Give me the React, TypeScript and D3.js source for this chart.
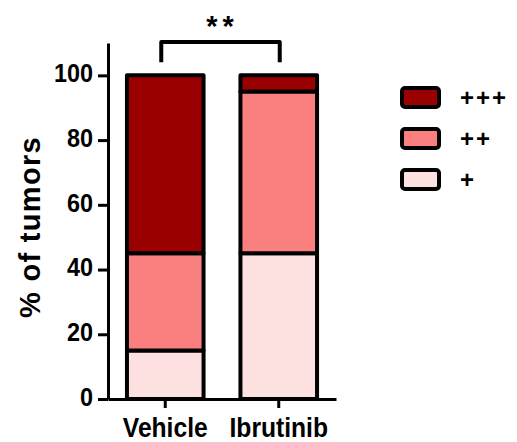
import * as d3 from 'd3';
import { useEffect, useRef } from 'react';

const groups = ['Vehicle', 'Ibrutinib'];
const levels = ['+', '++', '+++'];
const plusValues = [15, 45];
const plusPlusValues = [30, 50];
const plusPlusPlusValues = [55, 5];
const yTicks = [0, 20, 40, 60, 80, 100];
const colors = ['#fde0e0', '#fa8080', '#9b0000'];

export default function App() {
  const ref = useRef<SVGSVGElement>(null);

  useEffect(() => {
    const svg = d3.select(ref.current);
    svg.selectAll('*').remove();
    const font = 'Liberation Sans, Arial, sans-serif';

    const x = d3.scaleBand().domain(groups).range([108, 336]).paddingInner(0.325).paddingOuter(0.167);
    const y = d3.scaleLinear().domain([0, 110]).range([399, 43]);

    const rows = groups.map((g, i) => ({
      group: g,
      '+': plusValues[i],
      '++': plusPlusValues[i],
      '+++': plusPlusPlusValues[i],
    }));
    const stacked = d3.stack<any>().keys(levels)(rows);

    const g = svg.append('g');
    stacked.forEach((layer, li) => {
      g.selectAll(null)
        .data(layer)
        .enter()
        .append('rect')
        .attr('x', d => x(d.data.group)!)
        .attr('width', x.bandwidth())
        .attr('y', d => y(d[1]))
        .attr('height', d => y(d[0]) - y(d[1]))
        .attr('fill', colors[li])
        .attr('stroke', '#000')
        .attr('stroke-width', 4)
        .attr('stroke-linejoin', 'round');
    });

    // y axis
    const yAxis = svg.append('g')
      .attr('transform', 'translate(108,0)')
      .call(d3.axisLeft(y).tickValues(yTicks).tickSize(10).tickPadding(5).tickSizeOuter(0));
    yAxis.select('.domain').attr('stroke-width', 3);
    yAxis.selectAll('.tick line').attr('stroke-width', 3);
    yAxis.selectAll('.tick text')
      .attr('font-family', font).attr('font-size', 26).attr('font-weight', 'bold').attr('fill', '#000')
      .attr('x', -15 / 0.9).attr('dy', '0.24em')
      .attr('transform', 'scale(0.9,1)');

    // x axis
    const xAxis = svg.append('g')
      .attr('transform', 'translate(0,399)')
      .call(d3.axisBottom(x).tickSize(9).tickPadding(9).tickSizeOuter(0));
    xAxis.select('.domain').attr('stroke-width', 3);
    xAxis.selectAll('.tick line').attr('stroke-width', 3);
    xAxis.selectAll('.tick text')
      .attr('font-family', font).attr('font-size', 28).attr('font-weight', 'bold').attr('fill', '#000')
      .attr('transform', 'scale(0.88,1)');

    // y label
    svg.append('text')
      .attr('transform', 'translate(40,227) rotate(-90)')
      .attr('text-anchor', 'middle')
      .attr('font-family', font).attr('font-size', 29).attr('font-weight', 'bold')
      .attr('letter-spacing', 1.3)
      .text('% of tumors');

    // significance bracket
    const x1 = x('Vehicle')! + x.bandwidth() / 2 - 4;
    const x2 = x('Ibrutinib')! + x.bandwidth() / 2 + 1;
    svg.append('path')
      .attr('d', `M${x1},${y(100) - 13}V${y(110) - 1}H${x2}V${y(100) - 13}`)
      .attr('fill', 'none').attr('stroke', '#000').attr('stroke-width', 4).attr('stroke-linejoin', 'round');
    svg.append('text')
      .attr('x', (x1 + x2) / 2 + 2).attr('y', 36)
      .attr('text-anchor', 'middle')
      .attr('font-family', font).attr('font-size', 29).attr('font-weight', 'bold')
      .attr('letter-spacing', 5)
      .text('**');

    // legend
    const legendOrder = [2, 1, 0];
    const leg = svg.append('g').attr('transform', 'translate(402,88)');
    legendOrder.forEach((li, i) => {
      leg.append('rect')
        .attr('x', 0).attr('y', i * 41).attr('width', 37).attr('height', 19)
        .attr('rx', 3)
        .attr('fill', colors[li]).attr('stroke', '#000').attr('stroke-width', 4);
      leg.append('text')
        .attr('x', 58).attr('y', i * 41 + 18)
        .attr('font-family', font).attr('font-size', 24).attr('font-weight', 'bold')
        .attr('letter-spacing', 2)
        .text(levels[li]);
    });
  }, []);

  return (
    <svg
      ref={ref}
      width={517}
      height={442}
      style={{ display: 'block', position: 'absolute', left: 0, top: 0 }}
    />
  );
}
